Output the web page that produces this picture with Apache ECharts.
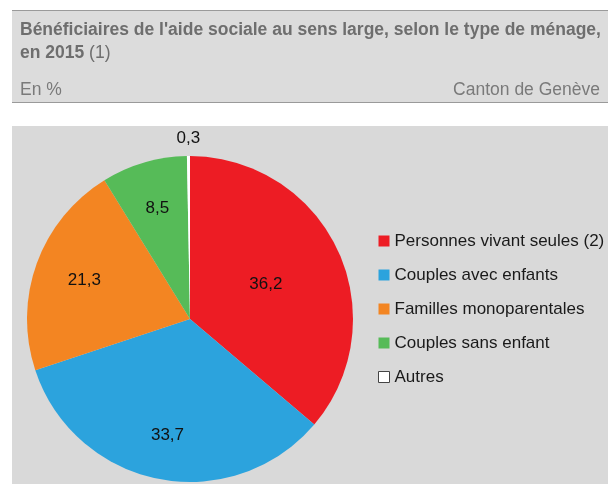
<!DOCTYPE html>
<html>
<head>
<meta charset="utf-8">
<script src="https://cdn.jsdelivr.net/npm/echarts@6/dist/echarts.min.js"></script>
<style>
	html, body { margin: 0; padding: 0; background: #fff; }
	#chart { width: 608px; height: 484px; }
</style>
</head>
<body>
<div id="chart"></div>
<script>
var categories = ['Personnes vivant seules (2)', 'Couples avec enfants', 'Familles monoparentales', 'Couples sans enfant', 'Autres'];
var values = [36.2, 33.7, 21.3, 8.5, 0.3];
var colors = ['#ed1c24', '#2ca3dd', '#f38522', '#56bb58', '#ffffff'];

var font = '"Liberation Sans", Arial, sans-serif';
var cx = 190, cy = 319;
// 比例: 标签离圆心的距离 (相对默认位置)
var labelScale = [0.99, 1.40, 1.33, 1.37, 2.14];

var myChart = echarts.init(document.getElementById('chart'), null, { renderer: 'canvas' });

var pieData = [];
for (var i = 0; i < categories.length; i++) {
	pieData.push({ name: categories[i], value: values[i], itemStyle: { color: colors[i] } });
}

var legendData = categories.map(function(c, i) {
	if (i === categories.length - 1) {
		return { name: c, itemStyle: { color: '#fff', borderColor: '#444', borderWidth: 1 } };
	}
	return { name: c };
});

var option = {
	backgroundColor: '#ffffff',
	animation: false,
	textStyle: { fontFamily: font },
	graphic: {
		elements: [
			{ type: 'rect', shape: { x: 12, y: 10, width: 596, height: 93 }, style: { fill: '#dcdcdc' } },
			{ type: 'line', shape: { x1: 12, y1: 10.5, x2: 608, y2: 10.5 }, style: { stroke: '#9a9a9a', lineWidth: 1 } },
			{ type: 'line', shape: { x1: 12, y1: 102.5, x2: 608, y2: 102.5 }, style: { stroke: '#9a9a9a', lineWidth: 1 } },
			{ type: 'rect', shape: { x: 12, y: 126, width: 596, height: 358 }, style: { fill: '#d9d9d9' } },
			{ type: 'text', x: 20, y: 30, style: {
				text: "Bénéficiaires de l'aide sociale au sens large, selon le type de ménage,",
				font: 'bold 17.5px ' + font, fill: '#6e6e6e', verticalAlign: 'middle' } },
			{ type: 'text', x: 20, y: 53, style: {
				text: '{b|en 2015} (1)', font: '17.5px ' + font, fill: '#6e6e6e', verticalAlign: 'middle',
				rich: { b: { fontWeight: 'bold', fontSize: 17.5, fontFamily: font, fill: '#6e6e6e' } } } },
			{ type: 'text', x: 20, y: 90, style: {
				text: 'En %', font: '17.5px ' + font, fill: '#7a7a7a', verticalAlign: 'middle' } },
			{ type: 'text', x: 600, y: 90, style: {
				text: 'Canton de Genève', font: '17.5px ' + font, fill: '#7a7a7a', align: 'right', verticalAlign: 'middle' } }
		]
	},
	legend: {
		orient: 'vertical',
		left: 378,
		top: 231,
		padding: 0,
		icon: 'rect',
		itemWidth: 11,
		itemHeight: 11,
		itemGap: 14,
		selectedMode: false,
		textStyle: { fontSize: 17, lineHeight: 20, color: '#1a1a1a', fontFamily: font },
		data: legendData
	},
	series: [{
		type: 'pie',
		center: [cx, cy],
		radius: 163,
		startAngle: 90,
		clockwise: true,
		avoidLabelOverlap: false,
		emphasis: { disabled: true },
		itemStyle: { borderWidth: 0 },
		label: {
			show: true,
			position: 'inside',
			fontSize: 17,
			color: '#111',
			fontFamily: font,
			formatter: function(p) { return String(p.value).replace('.', ','); }
		},
		labelLine: { show: false },
		labelLayout: function(params) {
			var r = params.labelRect;
			var lx = r.x + r.width / 2 - cx;
			var ly = r.y + r.height / 2 - cy;
			var f = labelScale[params.dataIndex] - 1;
			return { dx: lx * f, dy: ly * f };
		},
		data: pieData
	}]
};

myChart.setOption(option);
</script>
</body>
</html>
